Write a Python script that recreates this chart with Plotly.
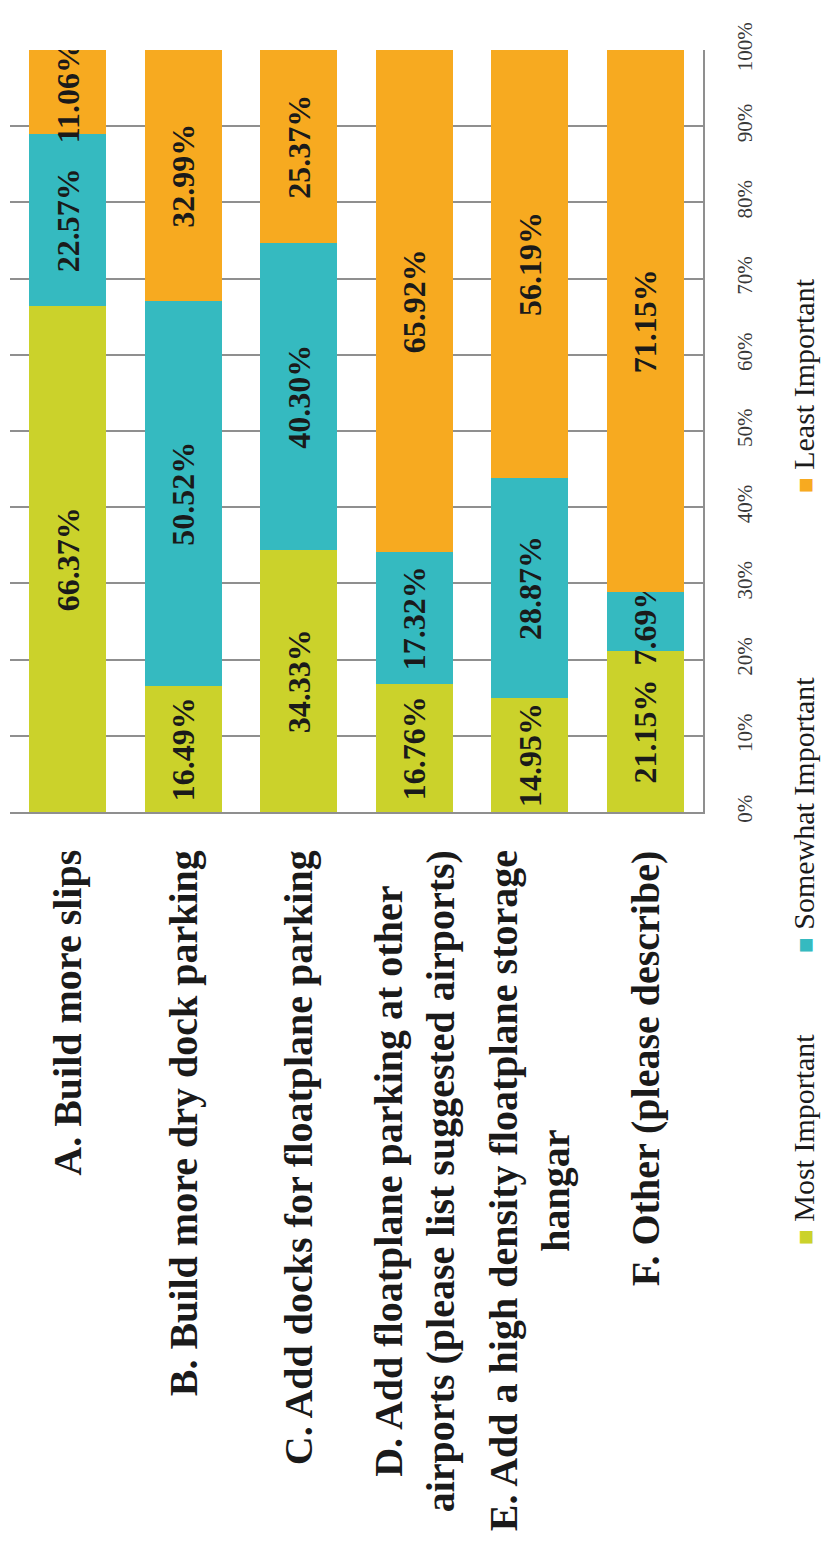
import plotly.graph_objects as go

categories = [
    "A. Build more slips",
    "B. Build more dry dock parking",
    "C. Add docks for floatplane parking",
    "D. Add floatplane parking at other airports (please list suggested airports)",
    "E. Add a high density floatplane storage hangar",
    "F. Other (please describe)",
]
category_labels = [
    "A. Build more slips",
    "B. Build more dry dock parking",
    "C. Add docks for floatplane parking",
    "D. Add floatplane parking at other<br>airports (please list suggested airports)",
    "E. Add a high density floatplane storage<br>hangar",
    "F. Other (please describe)",
]
series_names = ["Most Important", "Somewhat Important", "Least Important"]
most_important = [66.37, 16.49, 34.33, 16.76, 14.95, 21.15]
somewhat_important = [22.57, 50.52, 40.30, 17.32, 28.87, 7.69]
least_important = [11.06, 32.99, 25.37, 65.92, 56.19, 71.15]
tick_values = [0, 10, 20, 30, 40, 50, 60, 70, 80, 90, 100]
tick_labels = [f"{v}%" for v in tick_values]

colors = ["#CBD22B", "#35BAC0", "#F7AA20"]
SERIF = "Liberation Serif"

# page has an 8px body margin; figure sized to fit the 833x1543 window
W, H = 825, 1535
ML, MT = 2, 42
PW, PH = 693, 762
MR = W - ML - PW
MB = H - MT - PH

fig = go.Figure()
for name, vals, col in zip(series_names, [most_important, somewhat_important, least_important], colors):
    fig.add_trace(go.Bar(
        x=categories, y=vals, name=name,
        marker=dict(color=col, line=dict(width=0)),
        text=[f"{v:.2f}%" for v in vals],
        textposition="inside", insidetextanchor="middle",
        textangle=-90, constraintext="none",
        textfont=dict(family=SERIF, size=32, color="#1a1a1a", weight="bold"),
        hoverinfo="skip",
    ))

annotations = []
for cat, lab in zip(categories, category_labels):
    annotations.append(dict(
        x=cat, xref="x", y=-36 / PH, yref="paper",
        text=lab, textangle=-90, showarrow=False,
        xanchor="center", yanchor="top", align="center",
        font=dict(family=SERIF, size=40, color="#1a1a1a", weight="bold"),
    ))

# legend drawn as rotated annotations (page pixel centres converted to paper coords)
legend_centres = [(803, 1140), (803, 815), (803, 386)]
for name, col, (px, py) in zip(series_names, colors, legend_centres):
    annotations.append(dict(
        x=(px - 10) / PW, xref="paper", y=(812 - py) / PH, yref="paper",
        text=f'<span style="color:{col};font-size:26px">■</span> {name}',
        textangle=-90, showarrow=False,
        xanchor="center", yanchor="middle",
        font=dict(family=SERIF, size=30, color="#1a1a1a"),
    ))

fig.update_layout(
    width=W, height=H,
    margin=dict(l=ML, r=MR, t=MT, b=MB, autoexpand=False),
    barmode="stack", bargap=0.333,
    showlegend=False,
    plot_bgcolor="white", paper_bgcolor="white",
    uniformtext=dict(minsize=32, mode="show"),
    annotations=annotations,
    xaxis=dict(
        showticklabels=False, ticks="", showgrid=False,
        showline=True, linecolor="#8f8f8f", linewidth=1.5,
        zeroline=False, fixedrange=True,
    ),
    yaxis=dict(
        side="right", range=[0, 100],
        tickvals=tick_values, ticktext=tick_labels,
        tickangle=-90, ticks="", ticklabelstandoff=22,
        tickfont=dict(family=SERIF, size=21, color="#383838"),
        showgrid=True, gridcolor="#8f8f8f", gridwidth=1.5,
        showline=True, linecolor="#8f8f8f", linewidth=1.5,
        zeroline=False, fixedrange=True,
    ),
)

fig.write_html("out.html")
